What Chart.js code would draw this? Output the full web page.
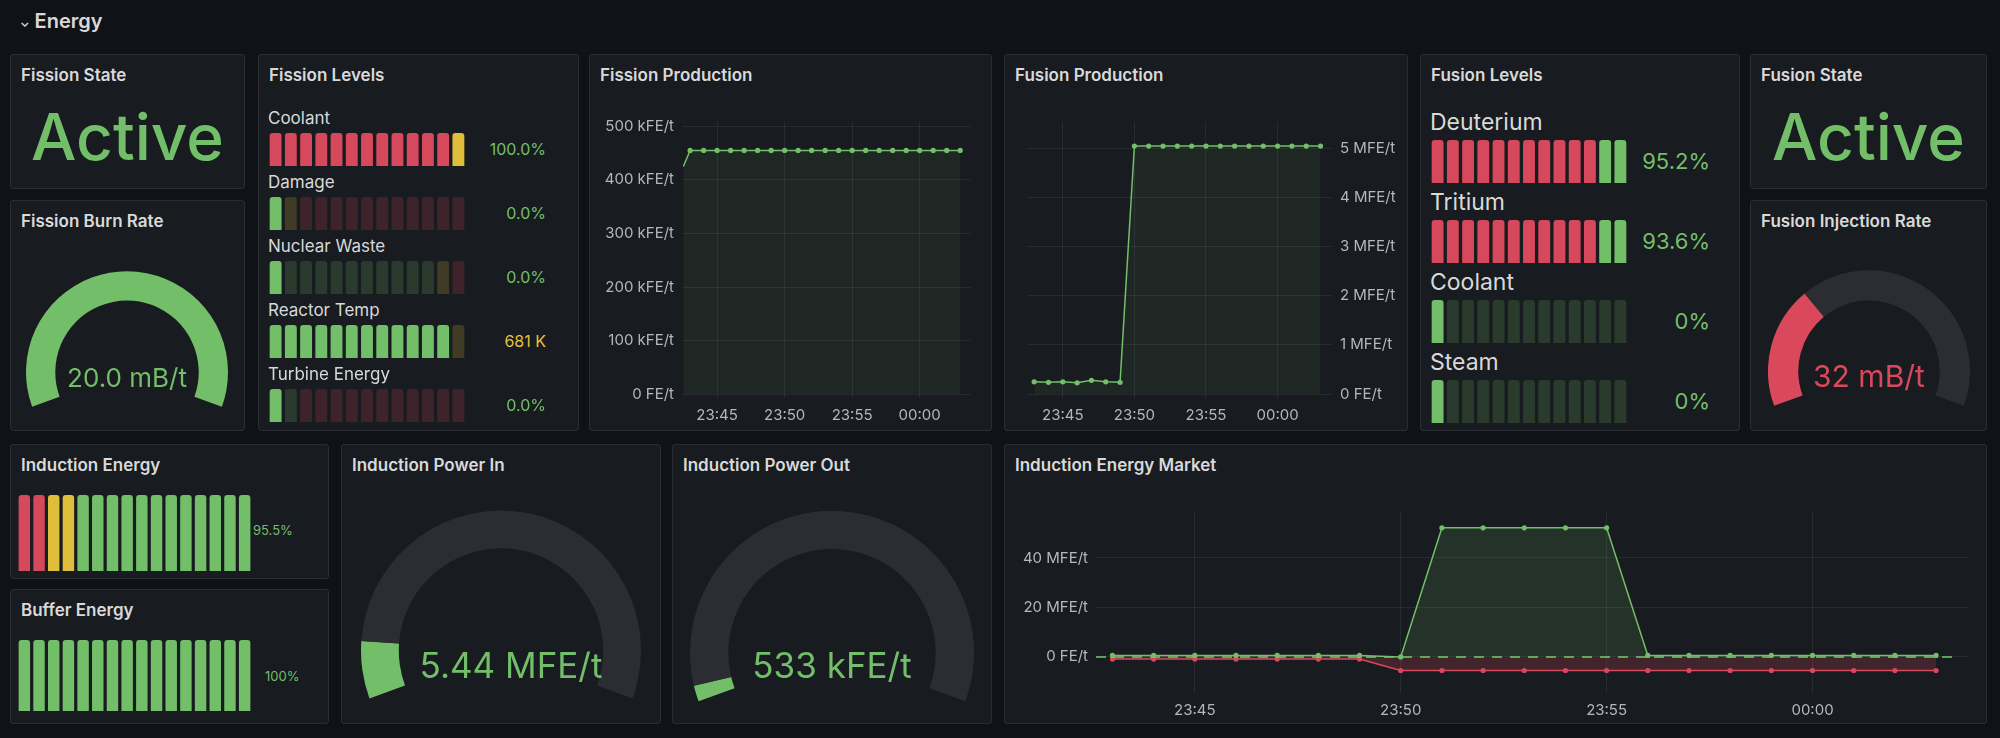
<!DOCTYPE html>
<html>
<head>
<title>Energy</title>
<script src="https://cdn.jsdelivr.net/npm/chart.js"></script>
<style>
  body { margin:0; width:2000px; height:738px; background:#111217; font-family:Inter, "Noto Sans", sans-serif; color:#d8d9da; overflow:hidden; position:relative; }
  .panel { position:absolute; background:#181b1f; border:1px solid #2a2d33; border-radius:3px; box-sizing:border-box; }
  .title { position:absolute; left:10px; top:10px; font-size:17px; font-weight:600; color:#d8d9da; }
  .abs { position:absolute; }
  .txt { position:absolute; white-space:nowrap; }
</style>
</head>
<body>
<div class="txt" style="left:20px;top:9px;font-size:20px;font-weight:600;color:#d8d9da"><span style="font-size:12px;vertical-align:middle">&#8964;</span> Energy</div>
<div id="root"></div>
<script>
// ---- data ----
const minutes = [3,4,5,6,7,8,9,10,11,12,13,14,15,16,17,18,19,20,21,22,23]; // minutes after 23:40
const timeTicks = [5,10,15,20];

const fissionProdX = [2.5].concat(minutes);
const fissionProd = [425,455,455,455,455,455,455,455,455,455,455,455,455,455,455,455,455,455,455,455,455,455];
const fissionTicks = [0,100,200,300,400,500];

const fusionProd = [0.25,0.24,0.25,0.23,0.28,0.25,0.24,5.05,5.05,5.05,5.05,5.05,5.05,5.05,5.05,5.05,5.05,5.05,5.05,5.05,5.05];
const fusionTicks = [0,1,2,3,4,5];

const marketIn  = [0.6,0.6,0.6,0.6,0.6,0.6,0.6,0,52.2,52.2,52.2,52.2,52.2,0.6,0.6,0.6,0.6,0.6,0.6,0.6,0.6];
const marketOut = [-0.9,-0.9,-0.9,-0.9,-0.9,-0.9,-0.9,-5.5,-5.5,-5.5,-5.5,-5.5,-5.5,-5.5,-5.5,-5.5,-5.5,-5.5,-5.5,-5.5,-5.5];
const marketTicks = [0,20,40];
const marketThreshold = 0;

const fissionLevelNames = ['Coolant','Damage','Nuclear Waste','Reactor Temp','Turbine Energy'];
const fissionLevelText  = ['100.0%','0.0%','0.0%','681 K','0.0%'];
const fissionLevelCells = ['RRRRRRRRRRRRY','GYRRRRRRRRRRR','GGGGGGGGGGGYR','GGGGGGGGGGGGY','GGRRRRRRRRRRR'];
const fissionLevelLit   = [13,1,1,12,1];

const fusionLevelNames = ['Deuterium','Tritium','Coolant','Steam'];
const fusionLevelText  = ['95.2%','93.6%','0%','0%'];
const fusionLevelCells = ['RRRRRRRRRRRGG','RRRRRRRRRRRGG','GGGGGGGGGGGGG','GGGGGGGGGGGGG'];
const fusionLevelLit   = [13,13,1,1];

const inductionCells = 'RRYYGGGGGGGGGGGG'; const inductionLit = 16;
const bufferCells    = 'GGGGGGGGGGGGGGGG'; const bufferLit = 16;

const burnRate = 20, burnRateMax = 20;
const injectionRate = 32, injectionMax = 100;
const powerIn = 5.44, powerInMax = 50;      // MFE/t
const powerOut = 0.533, powerOutMax = 18;   // MFE/t

// ---- helpers ----
const GREEN = '#73bf69', RED = '#d9485b', YELLOW = '#e5c23a';
const palette = { G:[115,191,105], R:[214,72,91], Y:[222,190,58] };
const root = document.getElementById('root');

function el(cls, style, html) {
  const d = document.createElement('div');
  d.className = cls; d.style.cssText = style;
  if (html !== undefined) d.innerHTML = html;
  root.appendChild(d); return d;
}
function panel(x, y, w, h, title) {
  el('panel', `left:${x}px;top:${y}px;width:${w}px;height:${h}px`, `<div class="title">${title}</div>`);
}
function canvasAt(x, y, w, h) {
  const d = el('abs', `left:${x}px;top:${y}px;width:${w}px;height:${h}px`);
  const c = document.createElement('canvas'); d.appendChild(c); return c;
}
function timeLabel(m) {
  const p = n => String(n).padStart(2, '0');
  return m < 20 ? '23:' + p(40 + m) : '00:' + p(m - 20);
}
Chart.defaults.font.family = 'Inter, "Noto Sans", sans-serif';
Chart.defaults.animation = false;

function barGauge(x, y, w, h, cells, lit) {
  const c = canvasAt(x, y, w, h);
  const colors = cells.split('').map((k, i) => {
    const [r, g, b] = palette[k];
    return i < lit ? `rgb(${r},${g},${b})` : `rgba(${r},${g},${b},0.2)`;
  });
  new Chart(c, {
    type: 'bar',
    data: { labels: cells.split('').map((_, i) => i), datasets: [{ data: cells.split('').map(() => 1), backgroundColor: colors, borderRadius: 3, barPercentage: 0.78, categoryPercentage: 1 }] },
    options: { responsive: true, maintainAspectRatio: false, plugins: { legend: { display: false }, tooltip: { enabled: false } },
      scales: { x: { display: false }, y: { display: false, min: 0, max: 1 } }, layout: { padding: 0 } }
  });
}

function gauge(cx, top, R, cutout, value, max, color) {
  const h = Math.round(R * 1.35);
  const c = canvasAt(cx - R, top, 2 * R, h);
  new Chart(c, {
    type: 'doughnut',
    data: { datasets: [{ data: [value, Math.max(max - value, 0)], backgroundColor: [color, '#2b2d32'], borderWidth: 0 }] },
    options: { responsive: true, maintainAspectRatio: false, rotation: -110, circumference: 220, cutout: cutout,
      plugins: { legend: { display: false }, tooltip: { enabled: false } }, layout: { padding: 0 } }
  });
}

const tickStyle = { color: '#b4b7c0', font: { size: 15 } };
const gridStyle = { color: 'rgba(204,204,220,0.09)', drawTicks: false };
function fixTicks(values) { return s => { s.ticks = values.map(v => ({ value: v })); }; }

function timeChart(canvas, datasets, cfg) {
  new Chart(canvas, {
    type: 'line',
    data: { datasets },
    options: {
      responsive: true, maintainAspectRatio: false,
      plugins: { legend: { display: false }, tooltip: { enabled: false } },
      layout: { padding: cfg.padding },
      scales: {
        x: { type: 'linear', min: cfg.xmin, max: cfg.xmax, grid: gridStyle, border: { display: false },
             afterBuildTicks: fixTicks(timeTicks), afterFit: s => { s.height = 27; },
             ticks: Object.assign({ callback: v => timeLabel(v), padding: 8, maxRotation: 0 }, tickStyle) },
        y: { position: cfg.ypos, min: cfg.ymin, max: cfg.ymax, grid: gridStyle, border: { display: false },
             afterBuildTicks: fixTicks(cfg.yticks), afterFit: s => { s.width = cfg.ywidth; },
             ticks: Object.assign({ callback: cfg.yfmt, padding: 8 }, tickStyle) }
      }
    },
    plugins: cfg.plugins || []
  });
}
function lineSet(xs, ys, color, fillColor, extra) {
  return Object.assign({ data: xs.map((x, i) => ({ x, y: ys[i] })), borderColor: color, backgroundColor: fillColor,
    fill: 'origin', borderWidth: 1.5, pointRadius: 2.6, pointBackgroundColor: color, pointBorderWidth: 0, tension: 0 }, extra || {});
}

// ---- panels ----
panel(10, 54, 235, 135, 'Fission State');
el('txt', `left:10px;top:98px;width:235px;text-align:center;font-size:64px;font-weight:500;color:${GREEN}`, 'Active');

panel(10, 200, 235, 231, 'Fission Burn Rate');
gauge(127, 271, 101, '71%', burnRate, burnRateMax, GREEN);
el('txt', `left:27px;top:362px;width:200px;text-align:center;font-size:26px;color:${GREEN}`, burnRate.toFixed(1) + ' mB/t');

panel(258, 54, 321, 377, 'Fission Levels');
fissionLevelNames.forEach((n, i) => {
  const y = 108 + i * 64;
  el('txt', `left:268px;top:${y}px;font-size:17px;color:#d8d9da`, n);
  barGauge(268, y + 25, 198, 33, fissionLevelCells[i], fissionLevelLit[i]);
  el('txt', `left:466px;top:${y + 31}px;width:80px;text-align:right;font-size:16px;color:${i === 3 ? YELLOW : GREEN}`, fissionLevelText[i]);
});

panel(589, 54, 403, 377, 'Fission Production');
timeChart(canvasAt(598, 105, 387, 320), [lineSet(fissionProdX, fissionProd, GREEN, 'rgba(115,191,105,0.08)', { pointRadius: c => c.dataIndex === 0 ? 0 : 2.6 })], {
  padding: { top: 12, right: 14, left: 0, bottom: 0 }, xmin: 2.4, xmax: 23.8, ymin: -7, ymax: 508, yticks: fissionTicks,
  ypos: 'left', ywidth: 84, yfmt: v => v === 0 ? '0 FE/t' : v + ' kFE/t'
});

panel(1004, 54, 404, 377, 'Fusion Production');
timeChart(canvasAt(1015, 105, 387, 320), [lineSet(minutes, fusionProd, GREEN, 'rgba(115,191,105,0.08)')], {
  padding: { top: 12, right: 0, left: 12, bottom: 0 }, xmin: 2.5, xmax: 23.8, ymin: -0.08, ymax: 5.54, yticks: fusionTicks,
  ypos: 'right', ywidth: 70, yfmt: v => v === 0 ? '0 FE/t' : v + ' MFE/t'
});

panel(1420, 54, 320, 377, 'Fusion Levels');
fusionLevelNames.forEach((n, i) => {
  const y = 108 + i * 80;
  el('txt', `left:1430px;top:${y}px;font-size:23px;color:#d8d9da`, n);
  barGauge(1430, y + 32, 198, 43, fusionLevelCells[i], fusionLevelLit[i]);
  el('txt', `left:1630px;top:${y + 40}px;width:80px;text-align:right;font-size:22px;color:${GREEN}`, fusionLevelText[i]);
});

panel(1750, 54, 237, 135, 'Fusion State');
el('txt', `left:1750px;top:98px;width:237px;text-align:center;font-size:64px;font-weight:500;color:${GREEN}`, 'Active');

panel(1750, 200, 237, 231, 'Fusion Injection Rate');
gauge(1869, 270, 101, '70%', injectionRate, injectionMax, RED);
el('txt', `left:1769px;top:358px;width:200px;text-align:center;font-size:30px;color:${RED}`, injectionRate + ' mB/t');

panel(10, 444, 319, 135, 'Induction Energy');
barGauge(17, 495, 235, 76, inductionCells, inductionLit);
el('txt', `left:253px;top:522px;font-size:13px;color:${GREEN}`, '95.5%');

panel(10, 589, 319, 135, 'Buffer Energy');
barGauge(17, 640, 235, 71, bufferCells, bufferLit);
el('txt', `left:265px;top:668px;font-size:13px;color:${GREEN}`, '100%');

panel(341, 444, 320, 280, 'Induction Power In');
gauge(501, 510, 140, '73%', powerIn, powerInMax, GREEN);
el('txt', `left:361px;top:644px;width:300px;text-align:center;font-size:35px;color:${GREEN}`, powerIn + ' MFE/t');

panel(672, 444, 320, 280, 'Induction Power Out');
gauge(832, 510, 142, '73%', powerOut, powerOutMax, GREEN);
el('txt', `left:682px;top:644px;width:300px;text-align:center;font-size:35px;color:${GREEN}`, Math.round(powerOut * 1000) + ' kFE/t');

panel(1004, 444, 983, 280, 'Induction Energy Market');
const thresholdLine = {
  id: 'thresholdLine',
  afterDatasetsDraw(chart) {
    const { ctx, chartArea, scales } = chart;
    const y = scales.y.getPixelForValue(marketThreshold);
    ctx.save(); ctx.strokeStyle = 'rgba(115,191,105,0.8)'; ctx.lineWidth = 2; ctx.setLineDash([10, 8]);
    ctx.beginPath(); ctx.moveTo(chartArea.left, y); ctx.lineTo(chartArea.right - 12, y); ctx.stroke(); ctx.restore();
  }
};
timeChart(canvasAt(1013, 495, 967, 225), [
  lineSet(minutes, marketIn, GREEN, 'rgba(115,191,105,0.14)'),
  lineSet(minutes, marketOut, RED, 'rgba(217,72,91,0.22)')
], {
  padding: { top: 12, right: 11, left: 0, bottom: 0 }, xmin: 2.6, xmax: 23.8, ymin: -14.6, ymax: 58.6, yticks: marketTicks,
  ypos: 'left', ywidth: 83, yfmt: v => v === 0 ? '0 FE/t' : v + ' MFE/t', plugins: [thresholdLine]
});
</script>
</body>
</html>
